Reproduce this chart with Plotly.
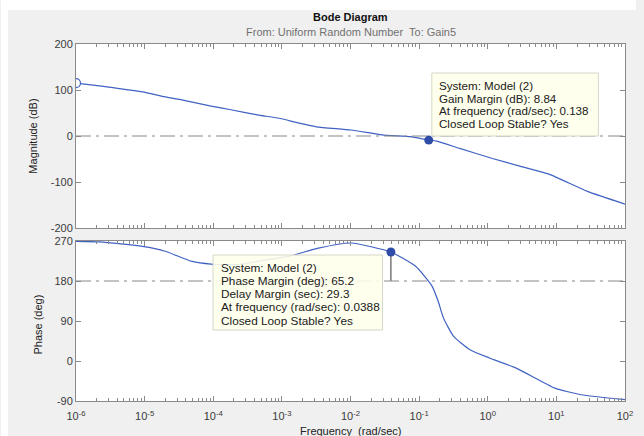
import plotly.graph_objects as go

# ---------------- data ----------------
mag_freq = [1e-6, 2.2e-6, 5.4e-6, 9.3e-6, 2.0e-5, 3.9e-5, 9.3e-5, 1.8e-4, 4.4e-4,
            9.5e-4, 1.66e-3, 3.2e-3, 1.02e-2, 3.1e-2, 7.5e-2, 0.138, 0.18, 0.39,
            1.17, 3.2, 7.8, 29, 100]
mag_db = [115, 109, 101, 96, 85, 77, 65, 57, 46, 38, 29, 20, 13, 2, -1.5, -8.84,
          -11, -27, -49, -67, -83, -121, -148]

ph_freq = [1e-6, 2.2e-6, 9.3e-6, 2.0e-5, 4.9e-5, 9.3e-5, 2.3e-4, 5.2e-4, 1.3e-3,
           3.4e-3, 1.02e-2, 0.0388, 8.9e-2, 0.155, 0.19, 0.226, 0.316, 0.55, 1.06,
           2.6, 9.5, 23, 100]
ph_deg = [269.3, 268, 258, 247, 224, 218, 217, 226, 236, 254, 265.5, 245.2, 213,
          168, 134, 97, 56, 25.5, 6.8, -16, -61, -76, -87]

gm_freq, gm_db = 0.138, 8.84          # gain margin
pm_freq, pm_deg = 0.0388, 65.2        # phase margin
delay_margin = 29.3
mag_ref, ph_ref = 0, 180

x_ticks = [1e-6, 1e-5, 1e-4, 1e-3, 1e-2, 1e-1, 1e0, 1e1, 1e2]
x_labels = ["10<sup>-6</sup>", "10<sup>-5</sup>", "10<sup>-4</sup>", "10<sup>-3</sup>",
            "10<sup>-2</sup>", "10<sup>-1</sup>", "10<sup>0</sup>", "10<sup>1</sup>",
            "10<sup>2</sup>"]
mag_ticks = [-200, -100, 0, 100, 200]
mag_labels = ["-200", "-100", "0", "100", "200"]
ph_ticks = [-90, 0, 90, 180, 270]
ph_labels = ["-90", "0", "90", "180", "270"]

gm_lines = ["System: Model (2)", f"Gain Margin (dB): {gm_db}",
            f"At frequency (rad/sec): {gm_freq}", "Closed Loop Stable? Yes"]
pm_lines = ["System: Model (2)", f"Phase Margin (deg): {pm_deg}",
            f"Delay Margin (sec): {delay_margin}",
            f"At frequency (rad/sec): {pm_freq}", "Closed Loop Stable? Yes"]

# ---------------- layout helpers ----------------
W, H = 644, 436
L, R, T, B = 76, 633, 44, 401
def px_x(p): return (p - L) / (R - L)
def px_y(p): return (B - p) / (B - T)

FONT = "Liberation Sans, Arial, sans-serif"
LINE = "#4062c2"
MARK = "#2f4ca8"
AXC = "#8a8a8a"
TXT = "#3a3a3a"

fig = go.Figure()

# magnitude
fig.add_trace(go.Scatter(x=mag_freq, y=mag_db, mode="lines",
                         line=dict(color=LINE, width=1.2, shape="spline", smoothing=0.5),
                         xaxis="x", yaxis="y", showlegend=False, hoverinfo="skip"))
fig.add_trace(go.Scatter(x=[mag_freq[0]], y=[mag_db[0]], mode="markers",
                         marker=dict(size=9, color="white", line=dict(color=LINE, width=1.2)),
                         xaxis="x", yaxis="y", showlegend=False))
fig.add_trace(go.Scatter(x=[gm_freq], y=[-gm_db], mode="markers",
                         marker=dict(size=9, color=MARK),
                         xaxis="x", yaxis="y", showlegend=False))
# phase
fig.add_trace(go.Scatter(x=ph_freq, y=ph_deg, mode="lines",
                         line=dict(color=LINE, width=1.2, shape="spline", smoothing=0.5),
                         xaxis="x2", yaxis="y2", showlegend=False, hoverinfo="skip"))
fig.add_trace(go.Scatter(x=[pm_freq, pm_freq], y=[ph_ref, ph_ref + pm_deg], mode="lines",
                         line=dict(color="#333333", width=1),
                         xaxis="x2", yaxis="y2", showlegend=False))
fig.add_trace(go.Scatter(x=[pm_freq], y=[ph_ref + pm_deg], mode="markers",
                         marker=dict(size=9, color=MARK),
                         xaxis="x2", yaxis="y2", showlegend=False))

minor_vals = [m * 10 ** k for k in range(-6, 2) for m in range(2, 10)]
xcommon = dict(type="log", range=[-6, 2], showgrid=False, zeroline=False,
               showline=True, linecolor=AXC, linewidth=1, mirror="ticks",
               ticks="inside", ticklen=5, tickcolor=AXC,
               tickmode="array", tickvals=x_ticks, ticktext=x_labels,
               minor=dict(tickmode="array", tickvals=minor_vals, ticks="inside",
                          ticklen=3, tickcolor=AXC, showgrid=False),
               tickfont=dict(family=FONT, size=11, color=TXT))
ycommon = dict(showgrid=False, zeroline=False, showline=True, linecolor=AXC,
               linewidth=1, mirror="ticks", ticks="inside", ticklen=5,
               tickcolor=AXC, tickmode="array",
               tickfont=dict(family=FONT, size=11, color=TXT))

top_dom = [(B - 228) / (B - T), 1]
bot_dom = [0, (B - 241) / (B - T)]

shapes = [
    dict(type="rect", xref="paper", yref="paper", x0=px_x(0), x1=px_x(W),
         y0=px_y(10), y1=px_y(0), fillcolor="white", line=dict(width=0), layer="below"),
    dict(type="rect", xref="paper", yref="paper", x0=px_x(0), x1=px_x(7),
         y0=px_y(H), y1=px_y(0), fillcolor="white", line=dict(width=0), layer="below"),
    dict(type="line", xref="x domain", yref="y", x0=0, x1=1, y0=mag_ref, y1=mag_ref,
         line=dict(color="#888888", width=1, dash="15px,5px,3px,5px")),
    dict(type="line", xref="x2 domain", yref="y2", x0=0, x1=1, y0=ph_ref, y1=ph_ref,
         line=dict(color="#888888", width=1, dash="15px,5px,3px,5px")),
    # datatip boxes
    dict(type="rect", xref="paper", yref="paper", x0=px_x(437), x1=px_x(606),
         y0=px_y(136), y1=px_y(73), fillcolor="rgba(255,255,236,0.93)",
         line=dict(color="#d6d6c8", width=1), layer="above"),
    dict(type="rect", xref="paper", yref="paper", x0=px_x(215), x1=px_x(387),
         y0=px_y(330), y1=px_y(255), fillcolor="rgba(255,255,236,0.88)",
         line=dict(color="#d6d6c8", width=1), layer="above"),
]

ann = []
def txt(text, x, y, size=12, color="#202020", bold=False, xanchor="left", angle=0):
    ann.append(dict(text=f"<b>{text}</b>" if bold else text, xref="paper", yref="paper",
                    x=px_x(x), y=px_y(y), xanchor=xanchor, yanchor="middle",
                    showarrow=False, textangle=angle,
                    font=dict(family=FONT, size=size, color=color)))

txt("Bode Diagram", 354.5, 17, size=11, color="#111111", bold=True, xanchor="center")
txt("From: Uniform Random Number  To: Gain5", 354.5, 32, size=11, color="#707070",
    xanchor="center")
txt("Magnitude (dB)", 32, 136, size=11, color="#222222", xanchor="center", angle=-90)
txt("Phase (deg)", 37, 325, size=11, color="#222222", xanchor="center", angle=-90)
txt("Frequency  (rad/sec)", 354.5, 431, size=11, color="#222222", xanchor="center")

for i, s in enumerate(gm_lines):
    txt(s, 442, 85.5 + i * 12.6, size=11.6)
for i, s in enumerate(pm_lines):
    txt(s, 221, 267.5 + i * 13.3, size=11.8)

fig.update_layout(
    width=W, height=H, margin=dict(l=L, r=W - R, t=T, b=H - B),
    paper_bgcolor="#f0f0f0", plot_bgcolor="white",
    xaxis=dict(**xcommon, domain=[0, 1], anchor="y", showticklabels=False),
    yaxis=dict(**ycommon, domain=top_dom, range=[-200, 200], tickvals=mag_ticks,
               ticktext=mag_labels, anchor="x"),
    xaxis2=dict(**xcommon, domain=[0, 1], anchor="y2", matches="x",
                ticklabelstandoff=5),
    yaxis2=dict(**ycommon, domain=bot_dom, range=[-90, 270], tickvals=ph_ticks,
                ticktext=ph_labels, anchor="x2"),
    shapes=shapes, annotations=ann, showlegend=False,
)

fig.write_html("out.html")
